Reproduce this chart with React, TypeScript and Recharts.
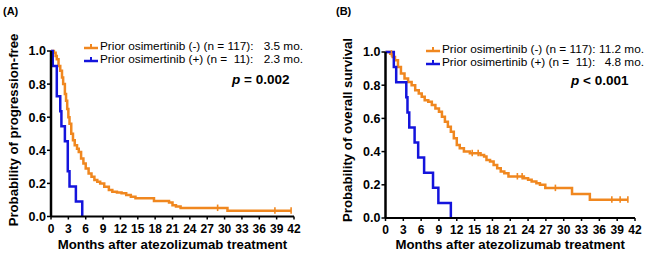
import { ComposedChart, Line, Scatter, XAxis, YAxis } from "recharts";

// Kaplan-Meier curves
const MONTH_TICKS = [0, 3, 6, 9, 12, 15, 18, 21, 24, 27, 30, 33, 36, 39, 42];
const PROB_TICKS = [0, 0.2, 0.4, 0.6, 0.8, 1.0];

// (A) progression-free
const pfsNegTime = [0, 0.5, 0.8, 1.0, 1.3, 1.6, 1.9, 2.1, 2.4, 2.6, 2.8, 3.0, 3.2, 3.5, 3.8, 4.1, 4.5, 4.8, 5.2, 5.6, 6.0, 6.5, 7.0, 7.5, 8.0, 8.5, 9.2, 10.0, 10.6, 11.4, 12.2, 13.0, 13.8, 14.6, 17.8, 20.4, 21.0, 21.6, 22.4, 30.5, 41.5];
const pfsNegProb = [1, 0.99, 0.97, 0.95, 0.91, 0.88, 0.84, 0.8, 0.74, 0.7, 0.65, 0.6, 0.56, 0.5, 0.46, 0.43, 0.41, 0.39, 0.35, 0.32, 0.29, 0.26, 0.24, 0.22, 0.21, 0.2, 0.18, 0.16, 0.15, 0.145, 0.14, 0.13, 0.12, 0.111, 0.094, 0.085, 0.068, 0.06, 0.051, 0.034, 0.034];
const pfsNegCensor = [28.8, 38.7, 41.5];
const pfsPosTime = [0, 0.3, 1.0, 1.6, 1.8, 2.4, 2.9, 3.2, 4.3, 5.4];
const pfsPosProb = [1, 0.909, 0.727, 0.636, 0.545, 0.455, 0.273, 0.182, 0.091, 0];

// (B) overall survival
const osNegTime = [0, 0.8, 1.2, 1.6, 2.1, 2.6, 3.2, 3.8, 4.4, 5.0, 5.6, 6.1, 6.6, 7.2, 7.8, 8.4, 9.0, 9.5, 10.0, 10.5, 11.0, 11.5, 12.0, 12.5, 13.2, 14.2, 16.0, 16.6, 17.0, 17.6, 18.2, 18.8, 19.4, 20.0, 20.7, 23.3, 24.0, 24.6, 25.4, 26.0, 26.9, 31.4, 34.4, 40.8];
const osNegProb = [1, 0.99, 0.97, 0.95, 0.91, 0.87, 0.84, 0.82, 0.8, 0.77, 0.75, 0.73, 0.71, 0.7, 0.68, 0.66, 0.64, 0.61, 0.58, 0.55, 0.52, 0.48, 0.44, 0.42, 0.4, 0.39, 0.38, 0.37, 0.35, 0.34, 0.32, 0.3, 0.28, 0.27, 0.25, 0.24, 0.23, 0.22, 0.21, 0.2, 0.18, 0.145, 0.11, 0.11];
const osNegCensor = [1.0, 14.6, 15.6, 22.2, 23.0, 28.6, 38.1, 39.5, 40.8];
const osPosTime = [0, 1.4, 1.8, 3.5, 3.7, 4.0, 4.9, 5.5, 6.5, 8.0, 8.9, 11.0];
const osPosProb = [1, 0.909, 0.818, 0.727, 0.636, 0.545, 0.455, 0.364, 0.273, 0.182, 0.091, 0];

const ORANGE = "#F0871F";
const BLUE = "#1414DC";
const FONT = "'Liberation Sans', Arial, sans-serif";

const zip = (ts: number[], ps: number[]) => ts.map((t, i) => ({ t, p: ps[i] }));
const stepAt = (ts: number[], ps: number[], t: number) => {
  let v = ps[0];
  ts.forEach((x, i) => {
    if (x <= t) v = ps[i];
  });
  return v;
};

const CensorTick = (color: string) => (props: any) => (
  <line x1={props.cx} x2={props.cx} y1={props.cy - 3.5} y2={props.cy + 3} stroke={color} strokeWidth={1.6} />
);

function LegendMark({ color }: { color: string }) {
  return (
    <svg width={14} height={8} style={{ display: "block" }}>
      <line x1={0} x2={14} y1={5} y2={5} stroke={color} strokeWidth={2.5} />
      <line x1={7} x2={7} y1={1} y2={5} stroke={color} strokeWidth={2} />
    </svg>
  );
}

interface PanelProps {
  left: number;
  tag: string;
  yLabel: string;
  yLabelX: number;
  margin: { top: number; right: number; bottom: number; left: number };
  orange: { t: number; p: number }[];
  orangeCensor: { t: number; p: number }[];
  blue: { t: number; p: number }[];
  legendX: number;
  legendY: number;
  legendW: number;
  values: [string, string];
  pText: string;
  pX: number;
  pY: number;
}

function Panel(props: PanelProps) {
  const { margin } = props;
  return (
    <div style={{ position: "absolute", left: props.left, top: 0, width: 323, height: 259, fontFamily: FONT }}>
      <ComposedChart width={323} height={259} margin={margin}>
        <XAxis
          type="number"
          dataKey="t"
          domain={[0, 42]}
          ticks={MONTH_TICKS}
          interval={0}
          axisLine={{ stroke: "#000", strokeWidth: 2 }}
          tickLine={{ stroke: "#000", strokeWidth: 1.5 }}
          tickSize={3}
          tickMargin={4.5}
          height={20}
          tick={{ fill: "#000", fontSize: 12, fontWeight: 700, fontFamily: FONT }}
        />
        <YAxis
          type="number"
          dataKey="p"
          domain={[0, 1]}
          ticks={PROB_TICKS}
          interval={0}
          tickFormatter={(v: number) => v.toFixed(1)}
          axisLine={{ stroke: "#000", strokeWidth: 2.5 }}
          tickLine={{ stroke: "#000", strokeWidth: 1.5 }}
          tickSize={4}
          tickMargin={1}
          width={40}
          tick={{ fill: "#000", fontSize: 12.5, fontWeight: 700, fontFamily: FONT }}
        />
        <Line data={props.orange} dataKey="p" type="stepAfter" stroke={ORANGE} strokeWidth={2.5} dot={false} isAnimationActive={false} />
        <Scatter data={props.orangeCensor} dataKey="p" shape={CensorTick(ORANGE)} isAnimationActive={false} />
        <Line data={props.blue} dataKey="p" type="stepAfter" stroke={BLUE} strokeWidth={2.5} dot={false} isAnimationActive={false} />
      </ComposedChart>

      <div style={{ position: "absolute", left: props.left === 0 ? 3 : 13, top: 5, fontSize: 11, fontWeight: 700 }}>{props.tag}</div>

      <div
        style={{
          position: "absolute",
          left: props.yLabelX - 110,
          top: 130 - 8,
          width: 220,
          height: 16,
          lineHeight: "16px",
          textAlign: "center",
          transform: "rotate(-90deg)",
          fontSize: 13.2,
          fontWeight: 700,
          whiteSpace: "nowrap",
        }}
      >
        {props.yLabel}
      </div>

      <div
        style={{
          position: "absolute",
          left: margin.left + 40 - 20,
          width: 323 - margin.left - 40 - margin.right + 40,
          top: 237,
          textAlign: "center",
          fontSize: 13.2,
          fontWeight: 700,
          whiteSpace: "nowrap",
        }}
      >
        Months after atezolizumab treatment
      </div>

      <div style={{ position: "absolute", left: props.legendX, top: props.legendY, width: props.legendW, fontSize: 11.8, lineHeight: "13px" }}>
        {[
          { color: ORANGE, label: "Prior osimertinib (-) (n = 117):", value: props.values[0] },
          { color: BLUE, label: "Prior osimertinib (+) (n =  11):", value: props.values[1] },
        ].map((row) => (
          <div key={row.label} style={{ display: "flex", alignItems: "center", whiteSpace: "pre" }}>
            <LegendMark color={row.color} />
            <span style={{ marginLeft: 2 }}>{row.label}</span>
            <span style={{ marginLeft: "auto" }}>{row.value}</span>
          </div>
        ))}
      </div>

      <div style={{ position: "absolute", left: props.pX, top: props.pY, fontSize: 13.5, fontWeight: 700, whiteSpace: "pre" }}>
        <i>p</i>
        {props.pText}
      </div>
    </div>
  );
}

export default function App() {
  return (
    <div style={{ position: "absolute", left: 0, top: 0, width: 646, height: 259, background: "#fff", overflow: "hidden" }}>
      <Panel
        left={0}
        tag="(A)"
        yLabel="Probability of progression-free"
        yLabelX={14}
        margin={{ top: 51, right: 29, bottom: 22.5, left: 11 }}
        orange={zip(pfsNegTime, pfsNegProb)}
        orangeCensor={pfsNegCensor.map((t) => ({ t, p: stepAt(pfsNegTime, pfsNegProb, t) }))}
        blue={zip(pfsPosTime, pfsPosProb)}
        legendX={84}
        legendY={40}
        legendW={219}
        values={["3.5 mo.", "2.3 mo."]}
        pText=" = 0.002"
        pX={232}
        pY={72}
      />
      <Panel
        left={323}
        tag="(B)"
        yLabel="Probability of overall survival"
        yLabelX={25}
        margin={{ top: 52, right: 11, bottom: 21, left: 22.5 }}
        orange={zip(osNegTime, osNegProb)}
        orangeCensor={osNegCensor.map((t) => ({ t, p: stepAt(osNegTime, osNegProb, t) }))}
        blue={zip(osPosTime, osPosProb)}
        legendX={103}
        legendY={43}
        legendW={218}
        values={["11.2 mo.", "4.8 mo."]}
        pText=" < 0.001"
        pX={248}
        pY={73}
      />
    </div>
  );
}
